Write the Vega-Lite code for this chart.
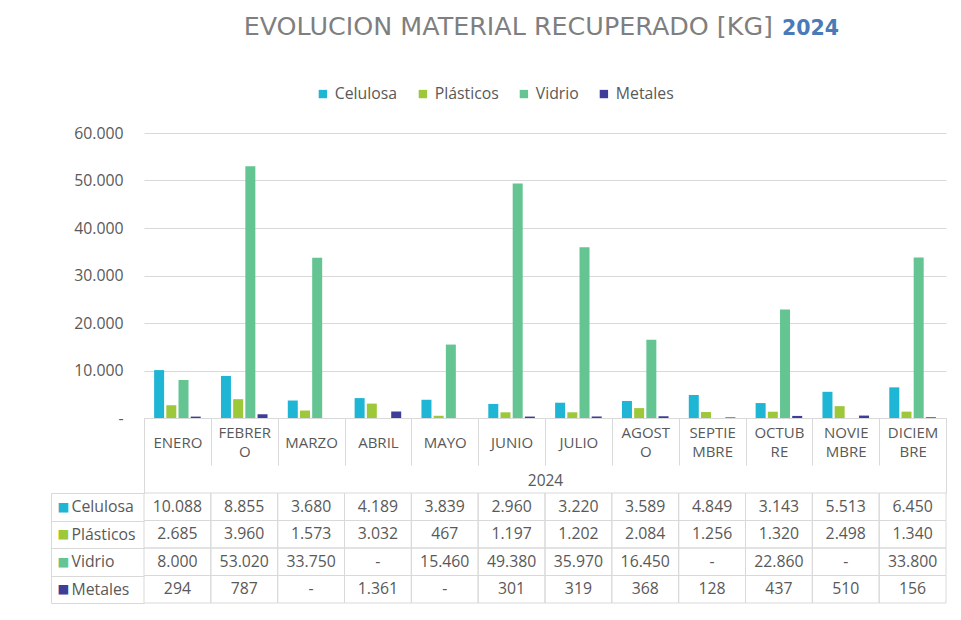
{
  "$schema": "https://vega.github.io/schema/vega-lite/v6.json",
  "background": "white",
  "padding": {"left": 50, "top": 12, "right": 10, "bottom": 10},
  "config": {
    "view": {"stroke": null},
    "font": "Open Sans",
    "locale": {"number": {"decimal": ",", "thousands": ".", "grouping": [3], "currency": ["", " €"]}}
  },
  "datasets": {
    "d": [
      {"mes": "ENERO", "material": "Celulosa", "kg": 10088},
      {"mes": "FEBRERO", "material": "Celulosa", "kg": 8855},
      {"mes": "MARZO", "material": "Celulosa", "kg": 3680},
      {"mes": "ABRIL", "material": "Celulosa", "kg": 4189},
      {"mes": "MAYO", "material": "Celulosa", "kg": 3839},
      {"mes": "JUNIO", "material": "Celulosa", "kg": 2960},
      {"mes": "JULIO", "material": "Celulosa", "kg": 3220},
      {"mes": "AGOSTO", "material": "Celulosa", "kg": 3589},
      {"mes": "SEPTIEMBRE", "material": "Celulosa", "kg": 4849},
      {"mes": "OCTUBRE", "material": "Celulosa", "kg": 3143},
      {"mes": "NOVIEMBRE", "material": "Celulosa", "kg": 5513},
      {"mes": "DICIEMBRE", "material": "Celulosa", "kg": 6450},
      {"mes": "ENERO", "material": "Plásticos", "kg": 2685},
      {"mes": "FEBRERO", "material": "Plásticos", "kg": 3960},
      {"mes": "MARZO", "material": "Plásticos", "kg": 1573},
      {"mes": "ABRIL", "material": "Plásticos", "kg": 3032},
      {"mes": "MAYO", "material": "Plásticos", "kg": 467},
      {"mes": "JUNIO", "material": "Plásticos", "kg": 1197},
      {"mes": "JULIO", "material": "Plásticos", "kg": 1202},
      {"mes": "AGOSTO", "material": "Plásticos", "kg": 2084},
      {"mes": "SEPTIEMBRE", "material": "Plásticos", "kg": 1256},
      {"mes": "OCTUBRE", "material": "Plásticos", "kg": 1320},
      {"mes": "NOVIEMBRE", "material": "Plásticos", "kg": 2498},
      {"mes": "DICIEMBRE", "material": "Plásticos", "kg": 1340},
      {"mes": "ENERO", "material": "Vidrio", "kg": 8000},
      {"mes": "FEBRERO", "material": "Vidrio", "kg": 53020},
      {"mes": "MARZO", "material": "Vidrio", "kg": 33750},
      {"mes": "ABRIL", "material": "Vidrio", "kg": 0},
      {"mes": "MAYO", "material": "Vidrio", "kg": 15460},
      {"mes": "JUNIO", "material": "Vidrio", "kg": 49380},
      {"mes": "JULIO", "material": "Vidrio", "kg": 35970},
      {"mes": "AGOSTO", "material": "Vidrio", "kg": 16450},
      {"mes": "SEPTIEMBRE", "material": "Vidrio", "kg": 0},
      {"mes": "OCTUBRE", "material": "Vidrio", "kg": 22860},
      {"mes": "NOVIEMBRE", "material": "Vidrio", "kg": 0},
      {"mes": "DICIEMBRE", "material": "Vidrio", "kg": 33800},
      {"mes": "ENERO", "material": "Metales", "kg": 294},
      {"mes": "FEBRERO", "material": "Metales", "kg": 787},
      {"mes": "MARZO", "material": "Metales", "kg": 0},
      {"mes": "ABRIL", "material": "Metales", "kg": 1361},
      {"mes": "MAYO", "material": "Metales", "kg": 0},
      {"mes": "JUNIO", "material": "Metales", "kg": 301},
      {"mes": "JULIO", "material": "Metales", "kg": 319},
      {"mes": "AGOSTO", "material": "Metales", "kg": 368},
      {"mes": "SEPTIEMBRE", "material": "Metales", "kg": 128},
      {"mes": "OCTUBRE", "material": "Metales", "kg": 437},
      {"mes": "NOVIEMBRE", "material": "Metales", "kg": 510},
      {"mes": "DICIEMBRE", "material": "Metales", "kg": 156}
    ]
  },
  "bounds": "flush",
  "spacing": 75,
  "vconcat": [
    {
      "width": 802,
      "height": 46,
      "layer": [
        {
          "data": {"values": [{"t": "EVOLUCION MATERIAL RECUPERADO [KG]"}]},
          "mark": {"type": "text", "align": "right", "baseline": "alphabetic", "dx": 228, "font": "DejaVu Sans", "fontSize": 25.4, "color": "#7f7f7f"},
          "encoding": {"text": {"field": "t"}}
        },
        {
          "data": {"values": [{"t": "2024"}]},
          "mark": {"type": "text", "align": "left", "baseline": "alphabetic", "dx": 237, "font": "DejaVu Sans", "fontSize": 20.5, "fontWeight": "bold", "color": "#4a7ab8"},
          "encoding": {"text": {"field": "t"}}
        }
      ]
    },
    {
      "width": 802,
      "height": 285,
      "data": {"name": "d"},
      "mark": {"type": "bar"},
      "encoding": {
        "x": {
          "field": "mes", "type": "nominal",
          "sort": ["ENERO","FEBRERO","MARZO","ABRIL","MAYO","JUNIO","JULIO","AGOSTO","SEPTIEMBRE","OCTUBRE","NOVIEMBRE","DICIEMBRE"],
          "scale": {"paddingInner": 0, "paddingOuter": 0},
          "axis": {
            "title": "2024", "titleFontSize": 15.5, "titleFontWeight": "normal", "titleColor": "#595959",
            "titleY": 62, "titleBaseline": "middle",
            "domain": true, "domainColor": "#d9d9d9",
            "ticks": true, "tickBand": "extent", "tickExtra": true, "tickColor": "#d9d9d9",
            "tickSize": 75,
            "tickDash": {"condition": {"test": "datum.index === 1 || datum.extra", "value": []}, "value": [47, 40]},
            "labelExpr": "datum.value == 'FEBRERO' ? ['FEBRER','O'] : datum.value == 'AGOSTO' ? ['AGOST','O'] : datum.value == 'SEPTIEMBRE' ? ['SEPTIE','MBRE'] : datum.value == 'OCTUBRE' ? ['OCTUB','RE'] : datum.value == 'NOVIEMBRE' ? ['NOVIE','MBRE'] : datum.value == 'DICIEMBRE' ? ['DICIEM','BRE'] : datum.label",
            "labelAngle": 0,
            "labelPadding": {"condition": {"test": "indexof(['FEBRERO','AGOSTO','SEPTIEMBRE','OCTUBRE','NOVIEMBRE','DICIEMBRE'], datum.value) >= 0", "value": -60.5}, "value": -51},
            "labelBaseline": "middle", "labelLineHeight": 19,
            "labelFontSize": 15, "labelColor": "#595959", "labelOverlap": false
          }
        },
        "xOffset": {
          "field": "material", "type": "nominal",
          "sort": ["Celulosa","Plásticos","Vidrio","Metales"],
          "scale": {"paddingInner": 0.18, "paddingOuter": 0.83}
        },
        "y": {
          "field": "kg", "type": "quantitative",
          "scale": {"domain": [0, 60000], "nice": false},
          "axis": {
            "title": null, "values": [0,10000,20000,30000,40000,50000,60000], "format": ",d",
            "labelExpr": "datum.value === 0 ? '-' : datum.label",
            "domain": false, "ticks": false, "grid": true, "gridColor": "#d9d9d9",
            "labelPadding": 21, "labelFontSize": 15.8, "labelColor": "#595959"
          }
        },
        "color": {
          "field": "material", "type": "nominal",
          "sort": ["Celulosa","Plásticos","Vidrio","Metales"],
          "scale": {"domain": ["Celulosa","Plásticos","Vidrio","Metales"], "range": ["#1fb5d4","#9dc83a","#64c593","#3f3d9a"]},
          "legend": {
            "orient": "none", "legendX": 171, "legendY": 74, "direction": "horizontal", "title": null,
            "symbolType": "square", "symbolSize": 70, "symbolStrokeWidth": 0,
            "labelFontSize": 15.8, "labelColor": "#595959", "columnPadding": 17, "labelOffset": 4
          }
        }
      }
    },
    {
      "width": 802,
      "height": 110,
      "data": {"name": "d"},
      "layer": [
        {
          "mark": {"type": "text", "fontSize": 15.8, "color": "#595959"},
          "encoding": {
            "x": {
              "field": "mes", "type": "nominal",
              "sort": ["ENERO","FEBRERO","MARZO","ABRIL","MAYO","JUNIO","JULIO","AGOSTO","SEPTIEMBRE","OCTUBRE","NOVIEMBRE","DICIEMBRE"],
              "scale": {"paddingInner": 0, "paddingOuter": 0},
              "axis": null
            },
            "y": {
              "field": "material", "type": "nominal",
              "sort": ["Celulosa","Plásticos","Vidrio","Metales"],
              "scale": {"paddingInner": 0, "paddingOuter": 0},
              "axis": {
                "orient": "left", "title": null, "domain": false,
                "ticks": true, "tickBand": "extent", "tickExtra": true, "tickSize": 93, "tickColor": "#d9d9d9",
                "labelAlign": "left", "labelPadding": -20, "labelFontSize": 15.8, "labelColor": "#595959",
                "labelBaseline": "middle", "labelOverlap": false, "grid": false
              }
            },
            "text": {
              "condition": {"test": "datum.kg === 0", "value": "-"},
              "field": "kg", "type": "quantitative", "format": ",d"
            }
          }
        },
        {
          "mark": {"type": "rect", "fillOpacity": 0, "stroke": "#d9d9d9", "strokeWidth": 1},
          "encoding": {
            "x": {
              "field": "mes", "type": "nominal",
              "sort": ["ENERO","FEBRERO","MARZO","ABRIL","MAYO","JUNIO","JULIO","AGOSTO","SEPTIEMBRE","OCTUBRE","NOVIEMBRE","DICIEMBRE"],
              "axis": null
            },
            "y": {
              "field": "material", "type": "nominal",
              "sort": ["Celulosa","Plásticos","Vidrio","Metales"],
              "scale": {"paddingInner": 0, "paddingOuter": 0},
              "axis": {
                "orient": "left", "offset": 93, "title": null,
                "domain": true, "domainColor": "#d9d9d9",
                "ticks": false, "tickSize": 0, "grid": false,
                "labelExpr": "'■'", "labelAlign": "left", "labelPadding": -6,
                "labelFont": "DejaVu Sans", "labelFontSize": 12.5, "labelBaseline": "middle", "labelOverlap": false,
                "labelColor": {"expr": "datum.value === 'Celulosa' ? '#1fb5d4' : datum.value === 'Plásticos' ? '#9dc83a' : datum.value === 'Vidrio' ? '#64c593' : '#3f3d9a'"}
              }
            }
          }
        }
      ],
      "resolve": {"scale": {"y": "independent"}}
    }
  ]
}
